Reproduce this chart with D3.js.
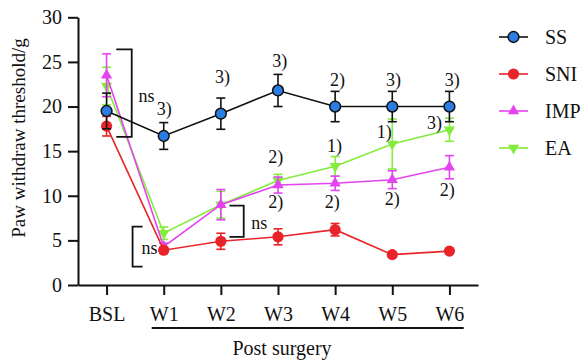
<!DOCTYPE html>
<html>
<head>
<meta charset="utf-8">
<script src="https://cdn.jsdelivr.net/npm/d3@7"></script>
<style>
  body { margin: 0; background: #fff; }
  svg, svg text { font-family: "Liberation Serif", "DejaVu Serif", serif !important; }
</style>
</head>
<body>
<div id="chart"></div>
<script>
// Data
const weeks = ["BSL", "W1", "W2", "W3", "W4", "W5", "W6"];
const groups = ["SS", "SNI", "IMP", "EA"];

const ssMean = [19.5, 16.7, 19.2, 21.8, 20.0, 20.0, 20.0];
const ssErr = [2.0, 1.5, 1.75, 1.8, 1.7, 1.7, 1.7];
const sniMean = [17.8, 3.9, 4.9, 5.4, 6.2, 3.4, 3.8];
const sniErr = [1.1, 0.3, 0.9, 0.9, 0.7, 0.2, 0.2];
const impMean = [23.5, 4.3, 9.0, 11.2, 11.4, 11.8, 13.2];
const impErr = [2.4, 0.4, 1.7, 0.9, 0.8, 1.0, 1.3];
const eaMean = [22.3, 5.8, 9.0, 11.7, 13.3, 15.8, 17.4];
const eaErr = [2.1, 0.7, 1.5, 0.7, 1.1, 2.8, 1.3];

const yTicks = [0, 5, 10, 15, 20, 25, 30];

// significance labels: [x (week index), y (value), text]
const ssLabels = [[1.01, 19.7, "3)"], [2.03, 23.3, "3)"], [3.03, 25.1, "3)"], [4.04, 23.0, "2)"], [5.02, 23.0, "3)"], [6.05, 23.0, "3)"]];
const eaLabels = [[2.96, 14.3, "2)"], [3.99, 15.6, "1)"], [4.86, 17.1, "1)"], [5.74, 18.2, "3)"]];
const impLabels = [[2.96, 9.3, "2)"], [3.95, 9.3, "2)"], [5.0, 9.6, "2)"], [5.96, 10.7, "2)"]];

// "ns" brackets: x0, x1 (week index), y0, y1 (value), open side, label x, label y
const brackets = [
  { x0: 0.17, x1: 0.44, y0: 26.4, y1: 16.6, open: "left", lx: 0.7, ly: 21.2 },
  { x0: 0.455, x1: 0.63, y0: 6.55, y1: 2.05, open: "right", lx: 0.75, ly: 4.15 },
  { x0: 2.15, x1: 2.4, y0: 8.9, y1: 5.4, open: "left", lx: 2.67, ly: 7.0 },
];

const series = [
  { name: "EA", mean: eaMean, err: eaErr, color: "#84ec3c", fill: "#84ec3c", marker: "down" },
  { name: "IMP", mean: impMean, err: impErr, color: "#e344ef", fill: "#e344ef", marker: "up" },
  { name: "SNI", mean: sniMean, err: sniErr, color: "#e8242a", fill: "#e8242a", marker: "circle" },
  { name: "SS", mean: ssMean, err: ssErr, color: "#111", fill: "#2a7de2", marker: "circleStroke" },
];

const width = 582;
const height = 361;
const font = "'Liberation Serif', 'DejaVu Serif', serif";

const svg = d3
  .select("#chart")
  .append("svg")
  .attr("width", width)
  .attr("height", height)
  .attr("font-family", font);

const x = d3.scaleLinear().domain([-0.5, 6.5]).range([78, 478]);
const y = d3.scaleLinear().domain([0, 30]).range([285, 17.3]);

// Axes
const yAxis = d3
  .axisLeft(y)
  .tickValues(yTicks)
  .tickSize(10)
  .tickSizeOuter(0)
  .tickPadding(6);

const xAxis = d3
  .axisBottom(x)
  .tickValues(d3.range(weeks.length))
  .tickFormat((i) => weeks[i])
  .tickSize(10)
  .tickSizeOuter(0)
  .tickPadding(12);

const gx = svg.append("g").attr("transform", `translate(0, ${y(0)})`).call(xAxis);
const gy = svg.append("g").attr("transform", `translate(${x(-0.5)}, 0)`).call(yAxis);

[gx, gy].forEach((g) => {
  g.attr("font-family", font).attr("font-size", 20);
  g.select(".domain").attr("stroke", "#111").attr("stroke-width", 2);
  g.selectAll(".tick line").attr("stroke", "#111").attr("stroke-width", 2);
  g.selectAll(".tick text").attr("fill", "#111");
});

// Axis titles
svg
  .append("text")
  .attr("transform", `translate(18, 138) rotate(-90)`)
  .attr("text-anchor", "middle")
  .attr("dominant-baseline", "central")
  .attr("font-size", 19)
  .attr("fill", "#111")
  .text("Paw withdraw threshold/g");

svg
  .append("line")
  .attr("x1", x(0.79))
  .attr("x2", x(6.25))
  .attr("y1", 328)
  .attr("y2", 328)
  .attr("stroke", "#111")
  .attr("stroke-width", 2);

svg
  .append("text")
  .attr("x", 282)
  .attr("y", 355)
  .attr("text-anchor", "middle")
  .attr("font-size", 20)
  .attr("fill", "#111")
  .text("Post surgery");

// Marker drawing
function drawMarker(g, type, color, fill, scale = 1) {
  if (type === "circle") {
    g.append("circle").attr("r", 5.6 * scale).attr("fill", fill);
  } else if (type === "circleStroke") {
    g.append("circle")
      .attr("r", 5.4 * scale)
      .attr("fill", fill)
      .attr("stroke", "#111")
      .attr("stroke-width", 1.5);
  } else {
    const path = d3.symbol().type(d3.symbolTriangle).size(55 * scale * scale)();
    g.append("path")
      .attr("d", path)
      .attr("fill", fill)
      .attr("transform", type === "down" ? "rotate(180)" : null);
  }
}

// Series
const line = d3
  .line()
  .x((d, i) => x(i))
  .y((d) => y(d));

series.forEach((s) => {
  const g = svg.append("g").attr("class", "series");

  g.append("path")
    .attr("d", line(s.mean))
    .attr("fill", "none")
    .attr("stroke", s.color)
    .attr("stroke-width", 1.6);

  s.mean.forEach((m, i) => {
    const e = s.err[i];
    const cx = x(i);
    const eg = g.append("g").attr("stroke", s.color).attr("stroke-width", 1.6);
    eg.append("line").attr("x1", cx).attr("x2", cx).attr("y1", y(m - e)).attr("y2", y(m + e));
    eg.append("line").attr("x1", cx - 4.5).attr("x2", cx + 4.5).attr("y1", y(m - e)).attr("y2", y(m - e));
    eg.append("line").attr("x1", cx - 4.5).attr("x2", cx + 4.5).attr("y1", y(m + e)).attr("y2", y(m + e));
  });

  s.mean.forEach((m, i) => {
    const mg = g.append("g").attr("transform", `translate(${x(i)}, ${y(m)})`);
    drawMarker(mg, s.marker, s.color, s.fill);
  });
});

// Significance labels
const allLabels = [...ssLabels, ...eaLabels, ...impLabels];
svg
  .append("g")
  .selectAll("text")
  .data(allLabels)
  .join("text")
  .attr("x", (d) => x(d[0]))
  .attr("y", (d) => y(d[1]))
  .attr("text-anchor", "middle")
  .attr("dominant-baseline", "central")
  .attr("font-size", 18)
  .attr("fill", "#111")
  .text((d) => d[2]);

// Brackets
const bg = svg.append("g");
brackets.forEach((b) => {
  const vx = b.open === "left" ? x(b.x1) : x(b.x0);
  const ox = b.open === "left" ? x(b.x0) : x(b.x1);
  const path = d3.path();
  path.moveTo(ox, y(b.y0));
  path.lineTo(vx, y(b.y0));
  path.lineTo(vx, y(b.y1));
  path.lineTo(ox, y(b.y1));
  bg.append("path")
    .attr("d", path.toString())
    .attr("fill", "none")
    .attr("stroke", "#111")
    .attr("stroke-width", 1.8);
  bg.append("text")
    .attr("x", x(b.lx))
    .attr("y", y(b.ly))
    .attr("text-anchor", "middle")
    .attr("dominant-baseline", "central")
    .attr("font-size", 18)
    .attr("fill", "#111")
    .text("ns");
});

// Legend
const legendY = d3.scalePoint().domain(groups).range([37, 148]);
const legend = svg.append("g").attr("transform", "translate(499, 0)");

groups.forEach((name) => {
  const s = series.find((d) => d.name === name);
  const lg = legend.append("g").attr("transform", `translate(0, ${legendY(name)})`);
  lg.append("line")
    .attr("x1", 0)
    .attr("x2", 29)
    .attr("stroke", s.color)
    .attr("stroke-width", 1.6);
  const mg = lg.append("g").attr("transform", "translate(14.5, 0)");
  drawMarker(mg, s.marker, s.color, s.fill);
  lg.append("text")
    .attr("x", 46)
    .attr("dominant-baseline", "central")
    .attr("font-size", 20)
    .attr("fill", "#111")
    .text(name);
});
</script>
</body>
</html>
